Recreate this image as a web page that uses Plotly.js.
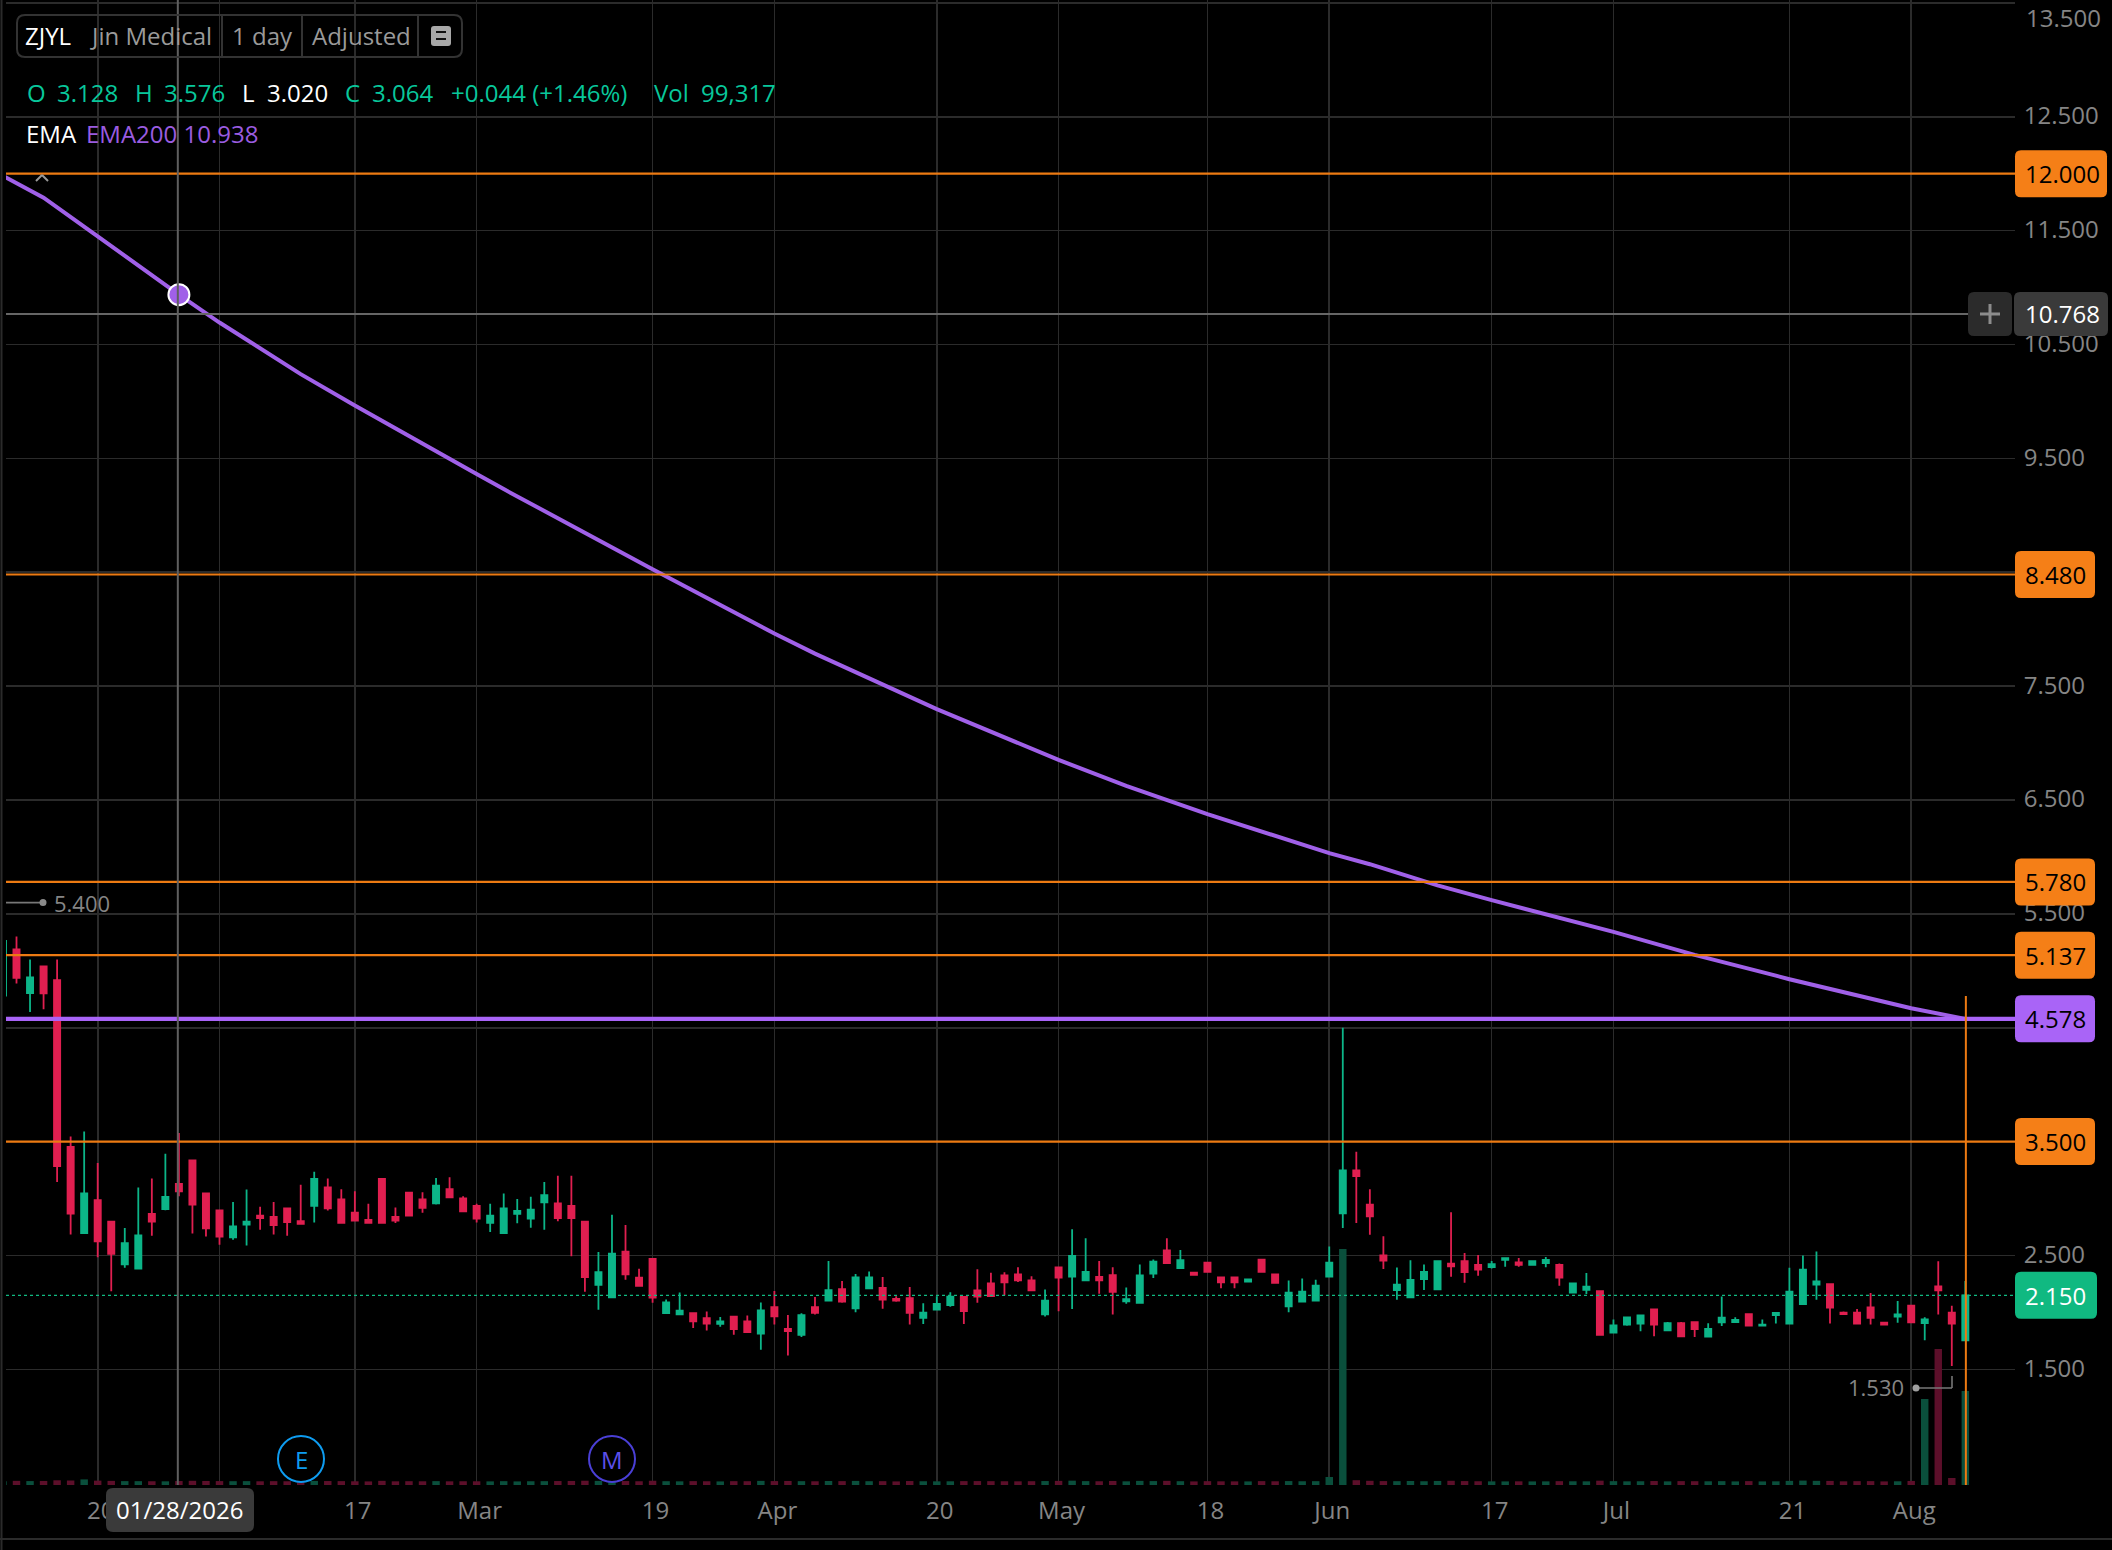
<!DOCTYPE html>
<html>
<head>
<meta charset="utf-8">
<script src="https://cdn.plot.ly/plotly-3.0.1.min.js"></script>
<style>html,body{margin:0;padding:0;background:#000;}#chart{width:2112px;height:1550px;}</style>
</head>
<body>
<div id="chart"></div>
<script>
// ---------- DATA ----------
const opens = [4.783,5.188,4.805,5.038,4.918,3.454,2.696,2.985,2.797,2.422,
2.384,2.865,2.906,3.128,3.334,3.045,2.895,2.658,2.771,2.850,
2.838,2.913,2.801,2.936,3.097,2.992,2.876,2.812,3.172,2.838,
3.052,2.992,2.958,3.082,3.000,2.936,2.786,2.696,2.865,2.823,
2.966,2.958,2.936,2.797,2.241,2.133,2.534,2.305,2.470,1.994,
1.982,1.994,1.950,1.899,1.963,1.921,1.813,2.046,1.854,1.803,
2.046,2.103,2.203,2.036,2.212,2.215,2.119,2.126,1.953,2.024,
2.065,2.135,2.193,2.254,2.324,2.333,2.282,1.982,2.394,2.314,
2.282,2.311,2.327,2.097,2.084,2.340,2.544,2.388,2.349,2.436,
2.308,2.308,2.270,2.464,2.333,2.052,2.094,2.103,2.314,2.870,
3.247,2.947,2.500,2.196,2.132,2.292,2.203,2.429,2.449,2.417,
2.397,2.461,2.439,2.417,2.432,2.417,2.174,2.199,2.187,1.822,
1.893,1.902,2.027,1.842,1.905,1.915,1.787,1.912,1.915,1.985,
1.883,1.976,1.902,2.072,2.244,2.247,1.998,1.998,2.043,1.909,
1.963,2.059,1.905,2.228,1.998,1.755];
const highs = [5.263,5.301,5.098,5.038,5.098,3.544,3.589,3.311,2.797,2.741,
3.097,3.176,3.394,3.576,3.334,3.045,2.895,2.970,3.079,2.928,
2.970,2.913,3.120,3.236,3.176,3.082,3.064,2.955,3.172,2.921,
3.052,3.056,3.180,3.187,3.019,2.955,2.955,3.045,2.996,3.015,
3.146,3.199,3.199,2.797,2.530,2.857,2.767,2.384,2.470,2.114,
2.174,1.994,2.008,1.960,1.963,1.973,2.087,2.187,1.976,1.992,
2.135,2.452,2.276,2.337,2.359,2.311,2.142,2.222,2.081,2.142,
2.177,2.135,2.378,2.349,2.353,2.397,2.317,2.202,2.394,2.730,
2.650,2.452,2.397,2.218,2.420,2.464,2.650,2.547,2.349,2.436,
2.308,2.308,2.289,2.464,2.333,2.279,2.298,2.286,2.579,4.499,
3.410,3.081,2.669,2.394,2.458,2.420,2.449,2.880,2.522,2.503,
2.452,2.477,2.477,2.449,2.487,2.429,2.263,2.346,2.187,1.937,
1.957,1.973,2.027,1.915,1.915,1.921,1.905,2.139,1.957,1.988,
1.937,1.995,2.391,2.499,2.535,2.247,2.008,2.030,2.171,1.909,
2.100,2.059,1.957,2.449,2.059,2.276];
const lows = [4.783,4.888,4.637,4.663,3.146,2.684,2.696,2.485,2.185,2.392,
2.384,2.673,2.898,3.020,2.692,2.666,2.594,2.639,2.587,2.726,
2.684,2.673,2.778,2.789,2.895,2.786,2.801,2.786,2.786,2.786,
2.850,2.876,2.947,3.011,2.887,2.789,2.707,2.696,2.782,2.744,
2.726,2.801,2.493,2.181,2.024,2.133,2.286,2.234,2.084,1.990,
1.982,1.862,1.842,1.873,1.803,1.826,1.672,1.893,1.621,1.784,
1.982,2.100,2.084,2.001,2.209,2.033,2.094,1.893,1.899,2.020,
2.049,1.899,2.084,2.142,2.151,2.266,2.193,1.963,2.011,2.030,
2.282,2.164,1.982,2.075,2.084,2.301,2.432,2.388,2.330,2.356,
2.212,2.212,2.270,2.356,2.260,2.001,2.094,2.103,2.314,2.742,
2.784,2.682,2.381,2.110,2.132,2.196,2.203,2.314,2.260,2.321,
2.385,2.400,2.400,2.413,2.397,2.234,2.174,2.161,1.803,1.822,
1.883,1.835,1.790,1.842,1.784,1.784,1.787,1.880,1.915,1.883,
1.883,1.902,1.902,2.072,2.110,1.902,1.979,1.893,1.893,1.893,
1.909,1.912,1.755,1.982,1.530,1.755];
const closes = [5.263,4.937,4.941,4.802,3.285,2.868,3.045,2.624,2.515,2.609,
2.677,2.797,3.015,3.064,2.947,2.737,2.666,2.756,2.797,2.827,
2.767,2.793,2.778,3.172,2.913,2.786,2.805,2.786,2.786,2.805,
2.850,2.917,3.112,3.011,2.887,2.823,2.850,2.913,2.891,2.902,
3.030,2.827,2.827,2.309,2.354,2.515,2.335,2.234,2.129,2.087,
2.016,1.922,1.902,1.921,1.854,1.826,2.017,1.966,1.835,1.976,
1.995,2.196,2.094,2.308,2.308,2.113,2.103,1.995,1.998,2.075,
2.139,2.011,2.139,2.142,2.263,2.282,2.193,2.103,2.305,2.496,
2.356,2.282,2.180,2.116,2.324,2.445,2.432,2.458,2.330,2.356,
2.263,2.263,2.289,2.356,2.260,2.174,2.183,2.234,2.436,3.247,
3.196,2.844,2.455,2.244,2.286,2.356,2.449,2.404,2.353,2.375,
2.423,2.477,2.417,2.449,2.461,2.305,2.254,2.225,1.803,1.886,
1.957,1.973,1.893,1.905,1.790,1.854,1.854,1.953,1.934,1.883,
1.893,1.995,2.183,2.375,2.273,2.043,1.985,1.902,1.953,1.893,
1.982,1.912,1.938,2.193,1.902,2.150];
const volumes = [95000,104000,98000,101000,118000,112000,140000,109000,103000,97000,
96000,94000,92000,99317,105000,101000,98000,95000,97000,93000,
96000,94000,91000,102000,99000,97000,93000,90000,104000,92000,
95000,93000,97000,92000,94000,93000,91000,96000,90000,94000,
96000,99000,101000,107000,103000,109000,99000,94000,106000,95000,
92000,97000,94000,90000,96000,95000,103000,98000,101000,96000,
93000,100000,97000,102000,95000,96000,90000,99000,94000,92000,
93000,97000,98000,96000,94000,92000,95000,99000,103000,108000,
97000,94000,101000,92000,103000,98000,104000,95000,90000,96000,
92000,91000,90000,97000,93000,98000,94000,96000,200000,5900000,
120000,105000,98000,96000,100000,94000,101000,105000,98000,94000,
91000,90000,92000,90000,91000,96000,93000,92000,108000,96000,
92000,94000,99000,91000,97000,95000,93000,96000,90000,97000,
90000,92000,103000,110000,104000,102000,92000,96000,97000,90000,
93000,101000,2150000,3400000,175000,2350000];
const emaIndex = [0,3,7,10,13,16,22,26,31,35,37,48,57,60,69,74,78,83,89,98,101,106,110,119,125,131,132,141,145];
const emaValues = [11.98,11.79,11.45,11.19,10.938,10.693,10.24,9.965,9.625,9.362,9.23,8.527,7.962,7.785,7.298,7.054,6.852,6.624,6.375,6.033,5.936,5.75,5.62,5.342,5.14,4.957,4.926,4.671,4.578];
const tickIndex = [7,16,26,35,48,57,69,78,89,98,110,119,132,141];
const tickLabels = ['20','','17','Mar','19','Apr','20','May','18','Jun','17','Jul','21','Aug'];
const priceTicks = [13.5,12.5,11.5,10.5,9.5,8.5,7.5,6.5,5.5,4.5,3.5,2.5,1.5];
const priceTickLabels = ['','12.500','11.500','10.500','9.500','','7.500','6.500','5.500','','','2.500','1.500'];
const orangeLevels = [12.0,8.48,5.78,5.137,3.5];
const emaLevel = 4.578, lastPrice = 2.15, crossPrice = 10.768;

// ---------- STYLE ----------
const W=2112,H=1550,ML=6,MR=97,MT=0,MB=65;
const UP='#0cb588',DOWN='#e01f50',UPV='#0a4f3c',DOWNV='#5c0f2a';
const ORANGE='#f57f17',ORLINE='#ec7a12',PURPLE='#a964f7',EMAC='#a060e8',GRID='#2b2b2b',TXT='#858585',TEAL='#08c79b';
const FONT='"Open Sans", "Noto Sans", sans-serif', FS=24;
const px=X=>(X-ML)/(W-ML-MR), py=Y=>1-(Y-MT)/(H-MT-MB);
const idx=opens.map((_,i)=>i);

const rr=(x0,x1,y0,y1,r)=>`M${x0+r},${y0} L${x1-r},${y0} Q${x1},${y0} ${x1},${y0+r} L${x1},${y1-r} Q${x1},${y1} ${x1-r},${y1} L${x0+r},${y1} Q${x0},${y1} ${x0},${y1-r} L${x0},${y0+r} Q${x0},${y0} ${x0+r},${y0} Z`;
function pill(cx,cy,w,h,r,fill){
  return {type:'path',layer:'above',xref:'paper',xsizemode:'pixel',xanchor:px(cx),
    yref:'paper',ysizemode:'pixel',yanchor:py(cy),path:rr(-w/2,w/2,-h/2,h/2,r),fillcolor:fill,line:{width:0}};
}
const pricePill=(level,w,fill)=>({type:'path',layer:'above',xref:'paper',xsizemode:'pixel',xanchor:px(2015+w/2),
    yref:'y',ysizemode:'pixel',yanchor:level,path:rr(-w/2,w/2,-23.5,23.5,6),fillcolor:fill,line:{width:0}});
const hline=(level,color,width,extra={})=>Object.assign({type:'line',layer:'above',xref:'paper',x0:0,x1:1,yref:'y',y0:level,y1:level,line:{color,width}},extra);
const rectPx=(X0,X1,Y0,Y1,fill,layer)=>({type:'rect',layer,xref:'paper',yref:'paper',x0:px(X0),x1:px(X1),y0:py(Y1),y1:py(Y0),fillcolor:fill,line:{width:0}});
const linePx=(X0,Y0,X1,Y1,color,width)=>({type:'line',layer:'above',xref:'paper',yref:'paper',x0:px(X0),x1:px(X1),y0:py(Y0),y1:py(Y1),line:{color,width}});
const txt=(X,Y,text,color,size=FS,anchor='left')=>({xref:'paper',yref:'paper',x:px(X),y:py(Y),text,showarrow:false,xanchor:anchor,yanchor:'middle',
   font:{family:FONT,size,color},borderpad:0,captureevents:false});
const priceTxt=(level,text,color)=>({xref:'paper',yref:'y',x:px(2024),y:level,text,showarrow:false,xanchor:'left',yanchor:'middle',borderpad:0,font:{family:FONT,size:FS,color}});

// ---------- TRACES ----------
const traces=[
 {type:'candlestick',x:idx,open:opens,high:highs,low:lows,close:closes,yaxis:'y',
  increasing:{line:{color:UP,width:1.8},fillcolor:UP},decreasing:{line:{color:DOWN,width:1.8},fillcolor:DOWN},whiskerwidth:0,showlegend:false,hoverinfo:'skip'},
 {type:'scatter',mode:'lines',x:emaIndex,y:emaValues,yaxis:'y',line:{color:EMAC,width:4,shape:'linear'},showlegend:false,hoverinfo:'skip'},
 {type:'scatter',mode:'markers',x:[emaIndex[4]],y:[emaValues[4]],yaxis:'y',marker:{size:21,color:EMAC,line:{color:'#ffffff',width:2}},showlegend:false,hoverinfo:'skip'},
 {type:'bar',x:idx,y:volumes,yaxis:'y2',width:0.55,marker:{color:idx.map(i=>closes[i]>=opens[i]?UPV:DOWNV),line:{width:0}},showlegend:false,hoverinfo:'skip'}
];

// ---------- SHAPES ----------
const shapes=[
  // black backing behind the legend rows hides gridlines
  rectPx(17,462,15,57,'#000000','below'),
  rectPx(17,790,73,115,'#000000','below'),
  rectPx(17,275,117,153,'#000000','below'),
  // borders of the pane
  linePx(1.5,0,1.5,1550,GRID,2),
  linePx(0,1539,2112,1539,GRID,2),
  // last price dotted
  hline(lastPrice,'#10b981',1,{line:{color:'#10b981',width:1.2,dash:'dot'}}),
  // orange alert lines
  ...orangeLevels.map(l=>hline(l,ORLINE,2.2)),
  // EMA level
  hline(emaLevel,PURPLE,4.4),
  // crosshair
  {type:'line',layer:'above',xref:'paper',x0:0,x1:px(1968),yref:'y',y0:crossPrice,y1:crossPrice,line:{color:'#666666',width:1.8}},
  {type:'line',layer:'above',xref:'x',x0:12.92,x1:12.92,yref:'paper',y0:0,y1:1,line:{color:'#5f5f5f',width:2}},
  // orange vertical marker
  {type:'line',layer:'above',xref:'x',x0:145.04,x1:145.04,yref:'paper',y0:0,y1:py(996),line:{color:ORLINE,width:2}},
  // header box
  {type:'path',layer:'above',xref:'paper',xsizemode:'pixel',xanchor:px(239.5),yref:'paper',ysizemode:'pixel',yanchor:py(36),path:rr(-222.5,222.5,-21,21,8),fillcolor:'rgba(0,0,0,0)',line:{color:'#333333',width:2}},
  linePx(222,15,222,57,'#333333',2),linePx(302,15,302,57,'#333333',2),linePx(418,15,418,57,'#333333',2),
  pill(441,36,20,20,3,'#a8a8a8'),
  linePx(436,32,446,32,'#111111',2),linePx(436,39,446,39,'#111111',2),
  // collapse chevron
  linePx(36,181,42,175,'#9a9a9a',2),linePx(42,175,48,181,'#9a9a9a',2),
  // 5.400 marker
  linePx(6,902.6,42,902.6,'#777777',1.6),
  {type:'circle',layer:'above',xref:'paper',xsizemode:'pixel',xanchor:px(43),yref:'paper',ysizemode:'pixel',yanchor:py(902.6),x0:-3.5,x1:3.5,y0:-3.5,y1:3.5,fillcolor:'#8a8a8a',line:{width:0}},
  // 1.530 marker
  linePx(1915,1388,1952,1388,'#777777',1.6),linePx(1952,1376,1952,1388,'#777777',1.6),
  {type:'circle',layer:'above',xref:'paper',xsizemode:'pixel',xanchor:px(1916),yref:'paper',ysizemode:'pixel',yanchor:py(1388),x0:-3.5,x1:3.5,y0:-3.5,y1:3.5,fillcolor:'#a0a0a0',line:{width:0}},
  // event circles
  {type:'circle',layer:'above',xref:'paper',xsizemode:'pixel',xanchor:px(301),yref:'paper',ysizemode:'pixel',yanchor:py(1459),x0:-23,x1:23,y0:-23,y1:23,fillcolor:'#000000',line:{color:'#0e9cf0',width:2}},
  {type:'circle',layer:'above',xref:'paper',xsizemode:'pixel',xanchor:px(612),yref:'paper',ysizemode:'pixel',yanchor:py(1459),x0:-23,x1:23,y0:-23,y1:23,fillcolor:'#000000',line:{color:'#4a3fd6',width:2}},
  // pills
  ...orangeLevels.map(l=>pricePill(l,l>=10?92:80,ORANGE)),
  pricePill(emaLevel,80,PURPLE),
  pricePill(lastPrice,82,'#10b981'),
  {type:'path',layer:'above',xref:'paper',xsizemode:'pixel',xanchor:px(2061),yref:'y',ysizemode:'pixel',yanchor:crossPrice,path:rr(-47,47,-22,22,6),fillcolor:'#3a3a3a',line:{width:0}},
  {type:'path',layer:'above',xref:'paper',xsizemode:'pixel',xanchor:px(1990),yref:'y',ysizemode:'pixel',yanchor:crossPrice,path:rr(-22,22,-22,22,6),fillcolor:'#2b2b2b',line:{width:0}},
  {type:'line',layer:'above',xref:'paper',x0:px(1980),x1:px(2000),yref:'y',y0:crossPrice,y1:crossPrice,line:{color:'#8c8c8c',width:3}},
  {type:'line',layer:'above',xref:'paper',x0:px(1990),x1:px(1990),yref:'y',y0:crossPrice-0.088,y1:crossPrice+0.088,line:{color:'#8c8c8c',width:3}},
  // date tooltip
  pill(180,1510,148,44,7,'#3a3a3a')
];

// ---------- TEXT ----------
const annotations=[
  txt(2025,18,'13.500',TXT),
  txt(24,35,'ZJYL','#ffffff'),txt(89,35,'Jin Medical','#9a9a9a'),txt(231,35,'1 day','#9a9a9a'),txt(311,35,'Adjusted','#9a9a9a'),
  txt(26,93,'O',TEAL),txt(56,93,'3.128',TEAL),txt(134,93,'H',TEAL),txt(163,93,'3.576',TEAL),
  txt(241,93,'L','#ffffff'),txt(266,93,'3.020','#ffffff'),txt(344,93,'C',TEAL),txt(371,93,'3.064',TEAL),
  txt(450,93,'+0.044 (+1.46%)',TEAL),txt(653,93,'Vol',TEAL),txt(700,93,'99,317',TEAL),
  txt(25,133.5,'EMA','#ffffff'),txt(85,133.5,'EMA200 10.938','#9a5ce0'),
  txt(52.5,903,'5.400',TXT,22),
  txt(1847,1387,'1.530',TXT,22),
  txt(301,1459,'E','#0e9cf0',FS,'center'),txt(612,1459,'M','#5b4fe8',FS,'center'),
  ...orangeLevels.map(l=>priceTxt(l,l.toFixed(3),'#000000')),
  priceTxt(emaLevel,emaLevel.toFixed(3),'#000000'),
  priceTxt(lastPrice,lastPrice.toFixed(3),'#ffffff'),
  priceTxt(crossPrice,crossPrice.toFixed(3),'#ffffff'),
  txt(179,1509,'01/28/2026','#ffffff',FS,'center')
];

// ---------- LAYOUT ----------
const layout={
  width:W,height:H,margin:{l:ML,r:MR,t:MT,b:MB,pad:0},paper_bgcolor:'#000000',plot_bgcolor:'#000000',
  showlegend:false,hovermode:false,dragmode:false,boxgap:0.35,barmode:'overlay',
  font:{family:FONT,size:FS,color:TXT},
  xaxis:{type:'linear',range:[0.224,148.67],tickmode:'array',tickvals:tickIndex,ticktext:tickLabels,showgrid:true,gridcolor:GRID,gridwidth:1.6,
    zeroline:false,showline:false,ticks:'outside',ticklen:4,tickcolor:'rgba(0,0,0,0)',tickfont:{family:FONT,size:FS,color:TXT},rangeslider:{visible:false},fixedrange:true,tickangle:0,ticklabelshift:3},
  yaxis:{type:'linear',side:'right',range:[0.4841,13.5255],tickmode:'array',tickvals:priceTicks,ticktext:priceTickLabels,showgrid:true,gridcolor:GRID,gridwidth:1.6,
    zeroline:false,showline:false,ticks:'outside',ticklen:3,tickcolor:'rgba(0,0,0,0)',tickfont:{family:FONT,size:FS,color:TXT},fixedrange:true,ticklabelshift:-1},
  yaxis2:{overlaying:'y',side:'left',range:[0,37125000],visible:false,showgrid:false,zeroline:false,fixedrange:true},
  shapes,annotations
};
Plotly.newPlot('chart',traces,layout,{staticPlot:true,displayModeBar:false});
</script>
</body>
</html>
